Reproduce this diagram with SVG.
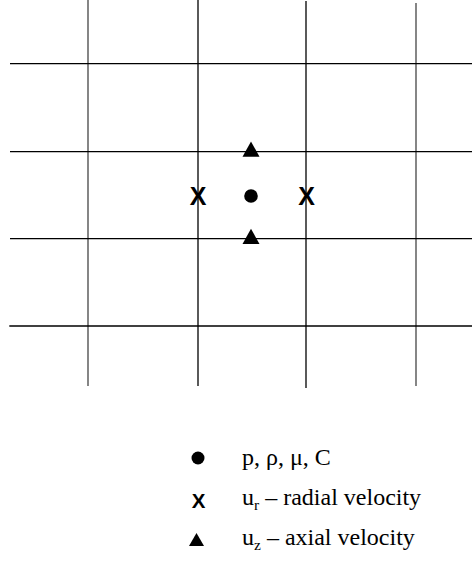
<svg xmlns="http://www.w3.org/2000/svg" width="472" height="563" viewBox="0 0 472 563">
<style>
.g{stroke:#000;stroke-width:1.3;fill:none}
.gv{stroke:#444;stroke-width:1.3;fill:none}
.x{font-family:"Liberation Sans",Arial,sans-serif;font-weight:bold;text-anchor:middle;fill:#000}
.t{font-family:"Liberation Serif","Times New Roman",serif;font-size:24px;fill:#000}
.s{font-size:15.5px}
</style>
<rect width="472" height="563" fill="#fff"/>
<g id="grid">
<line class="gv" x1="88" y1="0" x2="88" y2="386"/>
<line class="g" x1="198" y1="0" x2="198" y2="386"/>
<line class="g" x1="306" y1="1" x2="306" y2="388"/>
<line class="gv" x1="416" y1="3" x2="416" y2="386"/>
<line class="g" x1="10" y1="63.7" x2="472" y2="63.7"/>
<line class="g" x1="10" y1="151.7" x2="472" y2="151.7"/>
<line class="g" x1="10" y1="238.7" x2="472" y2="238.7"/>
<line class="g" x1="9.3" y1="326" x2="472" y2="326"/>
</g>
<g id="symbols">
<polygon points="251,141.5 259.5,156.7 242.5,156.7" fill="#000"/>
<polygon points="251,228.8 259.5,244 242.5,244" fill="#000"/>
<circle cx="251" cy="196" r="6.8" fill="#000"/>
<text class="x" x="198" y="205" font-size="25">X</text>
<text class="x" x="306.5" y="205" font-size="25">X</text>
</g>
<g id="legend">
<circle cx="198" cy="458" r="6.5" fill="#000"/>
<text class="x" x="198.5" y="507.5" font-size="20.5">X</text>
<polygon points="196.5,533 204,546 189,546" fill="#000"/>
<text class="t" x="242" y="465">p, ρ, μ, C</text>
<text class="t" x="242" y="505">u<tspan class="s" dy="5">r</tspan><tspan dy="-5"> – radial velocity</tspan></text>
<text class="t" x="242" y="545">u<tspan class="s" dy="5">z</tspan><tspan dy="-5"> – axial velocity</tspan></text>
</g>
</svg>
